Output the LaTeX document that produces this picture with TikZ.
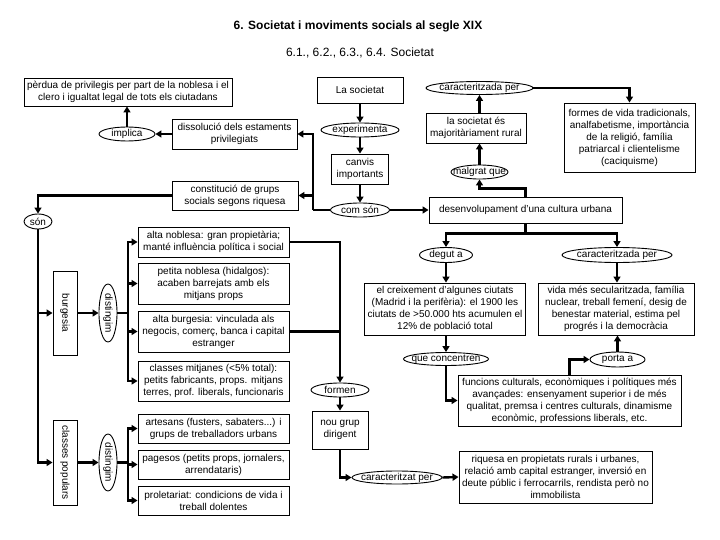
\documentclass[tikz,border=0pt]{standalone}
\usepackage{fontspec}
\setmainfont{Liberation Sans}
\usepackage{graphicx}
\usetikzlibrary{shapes.geometric,arrows.meta}
\begin{document}
\begin{tikzpicture}[x=1pt,y=-1pt,font=\fontsize{10}{12}\selectfont]
        \tikzstyle{box}=[draw,line width=0.9pt,align=center,inner sep=2pt]
        \tikzstyle{oval}=[draw,ellipse,line width=0.9pt,inner xsep=-12pt,inner ysep=-6pt]
        \tikzstyle{line}=[line width=2.4pt]
        \tikzstyle{arr}=[line width=2.4pt,-{Triangle[length=6pt,width=7pt]}]
        \useasboundingbox (0,0) rectangle (720,540);
        %titol
        \node[font=\fontsize{12}{14}\selectfont\bfseries] (titol) at (358,26) {6. Societat i moviments socials al segle XIX};
        \node[font=\fontsize{12}{14}\selectfont] (apartats) at (360,53) {6.1., 6.2., 6.3., 6.4. Societat};
        %part esquerra de dalt
        \node[box,minimum width=208pt,minimum height=28pt] (perdua) at (128,92) {pèrdua de privilegis per part de la noblesa i el\\clero i igualtat legal de tots els ciutadans};
        \node[oval,minimum width=56pt,minimum height=14pt] (implica) at (127,134) {implica};
        \node[box,minimum width=125pt,minimum height=30pt] (dissol) at (234.5,134) {dissolució dels estaments\\privilegiats};
        \node[box,minimum width=126pt,minimum height=29pt] (grups) at (235,195.5) {constitució de grups\\socials segons riquesa};
        \node[oval,minimum width=28pt,minimum height=15pt] (son) at (38,221.5) {són};
        %centre
        \node[box,minimum width=86pt,minimum height=26pt] (societat) at (360,90) {La societat};
        \node[oval,minimum width=78pt,minimum height=14pt] (experimenta) at (360,130) {experimenta};
        \node[box,minimum width=57pt,minimum height=30pt] (canvis) at (360,169) {canvis\\importants};
        \node[oval,minimum width=59pt,minimum height=14pt] (comson) at (360,210) {com són};
        %part dreta de dalt
        \node[oval,minimum width=107pt,minimum height=13pt] (caract) at (479.5,88) {caracteritzada per};
        \node[box,minimum width=100pt,minimum height=30pt] (rural) at (476,128) {la societat és\\majoritàriament rural};
        \node[oval,minimum width=57pt,minimum height=14pt] (malgrat) at (479.5,172) {malgrat que};
        \node[box,minimum width=131pt,minimum height=69pt] (formes) at (629.5,137.5) {formes de vida tradicionals,\\analfabetisme, importància\\de la religió, família\\patriarcal i clientelisme\\(caciquisme)};
        \node[box,minimum width=193pt,minimum height=26pt] (cultura) at (525.5,210) {desenvolupament d'una cultura urbana};
        \node[oval,minimum width=53pt,minimum height=15pt] (degut) at (446,255) {degut a};
        \node[oval,minimum width=110pt,minimum height=15pt] (caract2) at (617,255) {caracteritzada per};
        \node[box,minimum width=161pt,minimum height=52pt] (creixement) at (445,309) {el creixement d'algunes ciutats\\(Madrid i la perifèria): el 1900 les\\ciutats de >50.000 hts acumulen el\\12\% de població total};
        \node[box,minimum width=156pt,minimum height=52pt] (vida) at (616,309) {vida més secularitzada, família\\nuclear, treball femení, desig de\\benestar material, estima pel\\progrés i la democràcia};
        \node[oval,minimum width=85pt,minimum height=13pt] (concentren) at (446,359) {que concentren};
        \node[oval,minimum width=55pt,minimum height=15pt] (porta) at (617.5,359.5) {porta a};
        \node[box,minimum width=223pt,minimum height=51pt] (funcions) at (569.5,400.5) {funcions culturals, econòmiques i polítiques més\\avançades: ensenyament superior i de més\\qualitat, premsa i centres culturals, dinamisme\\econòmic, professions liberals, etc.};
        \node[oval,minimum width=58pt,minimum height=14pt] (formen) at (340,390) {formen};
        \node[box,minimum width=56pt,minimum height=38pt] (nougrup) at (340,430) {nou grup\\dirigent};
        \node[oval,minimum width=90pt,minimum height=13pt] (caract3) at (397,477.5) {caracteritzat per};
        \node[box,minimum width=193pt,minimum height=52pt] (riquesa) at (555.5,477) {riquesa en propietats rurals i urbanes,\\relació amb capital estranger, inversió en\\deute públic i ferrocarrils, rendista però no\\immobilista};
        %grups socials
        \node[box,minimum width=24pt,minimum height=84pt] (burgesia) at (65,313) {\rotatebox{-90}{burgesia}};
        \node[oval,minimum width=18pt,minimum height=58pt] (dist1) at (108,313) {\rotatebox{-90}{distingim}};
        \node[box,minimum width=24pt,minimum height=85pt] (populars) at (65,462.5) {\rotatebox{-90}{classes populars}};
        \node[oval,minimum width=18pt,minimum height=57pt] (dist2) at (108,462.5) {\rotatebox{-90}{distingim}};
        \node[box,minimum width=151pt,minimum height=30pt] (altanoblesa) at (213.5,242) {alta noblesa: gran propietària;\\manté influència política i social};
        \node[box,minimum width=151pt,minimum height=41pt] (petita) at (213.5,283.5) {petita noblesa (hidalgos):\\acaben barrejats amb els\\mitjans props};
        \node[box,minimum width=151pt,minimum height=41pt] (altaburgesia) at (213.5,331.5) {alta burgesia: vinculada als\\negocis, comerç, banca i capital\\estranger};
        \node[box,minimum width=151pt,minimum height=40pt] (mitjanes) at (213.5,381) {classes mitjanes (<5\% total):\\petits fabricants, props. mitjans\\terres, prof. liberals, funcionaris};
        \node[box,minimum width=151pt,minimum height=29pt] (artesans) at (213.5,428.5) {artesans (fusters, sabaters...) i\\grups de treballadors urbans};
        \node[box,minimum width=151pt,minimum height=29pt] (pagesos) at (213.5,464.5) {pagesos (petits props, jornalers,\\arrendataris)};
        \node[box,minimum width=151pt,minimum height=29pt] (proletariat) at (213.5,500.5) {proletariat: condicions de vida i\\treball dolentes};
        \coordinate (bus0) at (313,210);
        \coordinate (bus1) at (128,313);
        \coordinate (bus2) at (128,462.5);
        %connexions
        \draw[arr] (dissol.west)--(implica.east);
        \draw[arr] (implica.north)--(implica.north |- perdua.south);
        \draw[arr] (societat.south)--(experimenta.north);
        \draw[arr] (experimenta.south)--(canvis.north);
        \draw[arr] (canvis.south)--(comson.north);
        \draw[arr] (comson.east)--(cultura.west);
        \draw[line] (comson.west)--(bus0);
        \draw[arr] (bus0) |- (dissol.east);
        \draw[arr] (bus0 |- grups.east)--(grups.east);
        \draw[arr] (grups.west) -| (son.north);
        \draw[arr] (son.south) |- (populars.west);
        \draw[arr] (son.south |- burgesia.west)--(burgesia.west);
        \draw[arr] (burgesia.east)--(dist1.west);
        \draw[arr] (populars.east)--(dist2.west);
        \draw[line] (dist1.east)--(bus1);
        \draw[line] (dist2.east)--(bus2);
        \foreach \n in {altanoblesa,petita,altaburgesia,mitjanes}
            \draw[arr] (bus1) |- (\n.west);
        \foreach \n in {artesans,pagesos,proletariat}
            \draw[arr] (bus2) |- (\n.west);
        \draw[arr] (altanoblesa.east) -| (formen.north);
        \draw[line] (altaburgesia.east)--(altaburgesia.east -| formen.north);
        \draw[arr] (formen.south)--(nougrup.north);
        \draw[arr] (nougrup.south) |- (caract3.west);
        \draw[arr] (caract3.east)--(riquesa.west);
        \draw[arr] (cultura.north)--++(0,-8) -| (malgrat.south);
        \draw[arr] (malgrat.north)--(malgrat.north |- rural.south);
        \draw[arr] (caract.south |- rural.north)--(caract.south);
        \draw[arr] (caract.east) -| (formes.north);
        \draw[arr] (cultura.south)--++(0,10) -| (degut.north);
        \draw[arr] (cultura.south)--++(0,10) -| (caract2.north);
        \draw[arr] (degut.south)--(degut.south |- creixement.north);
        \draw[arr] (caract2.south)--(caract2.south |- vida.north);
        \draw[arr] (concentren.north |- creixement.south)--(concentren.north);
        \draw[arr] (concentren.south) |- (funcions.west);
        \draw[arr] (funcions.north) |- (porta.west);
        \draw[arr] (porta.north)--(porta.north |- vida.south);
    \end{tikzpicture}
\end{document}
